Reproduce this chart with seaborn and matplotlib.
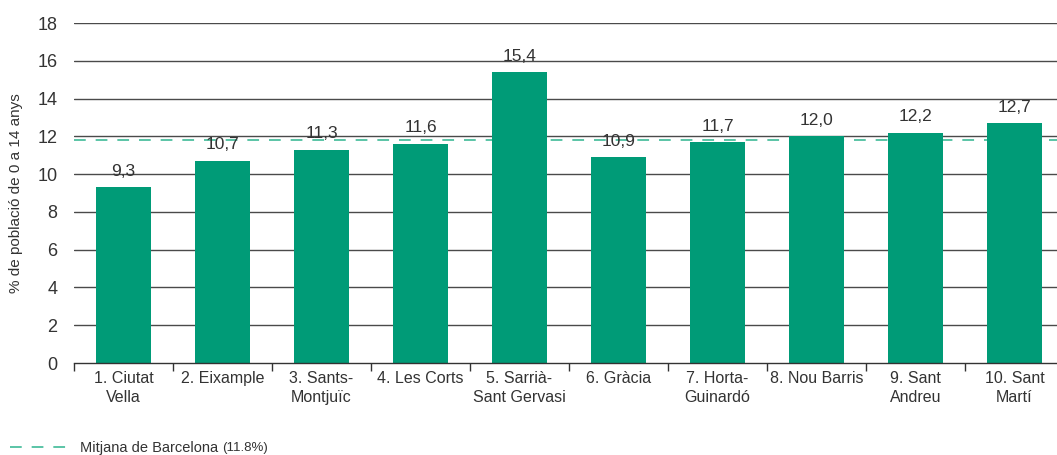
import matplotlib
matplotlib.use("Agg")
import matplotlib.pyplot as plt
import seaborn as sns
import pandas as pd
from matplotlib.lines import Line2D
from matplotlib.ticker import FixedLocator

districts = ["1. Ciutat\nVella", "2. Eixample", "3. Sants-\nMontjuïc", "4. Les Corts",
             "5. Sarrià-\nSant Gervasi", "6. Gràcia", "7. Horta-\nGuinardó",
             "8. Nou Barris", "9. Sant\nAndreu", "10. Sant\nMartí"]
values = [9.3, 10.7, 11.3, 11.6, 15.4, 10.9, 11.7, 12.0, 12.2, 12.7]
bcn_mean = 11.8
yticks = [0, 2, 4, 6, 8, 10, 12, 14, 16, 18]

sns.set_theme(style="white")
plt.rcParams['font.family'] = ['Liberation Sans', 'DejaVu Sans']

bar_color = "#009b77"
mean_color = "#4dbf9f"
text_color = "#333333"

df = pd.DataFrame({"district": districts, "value": values})

fig = plt.figure(figsize=(10.57, 4.55), dpi=100)
ax = fig.add_axes([74/1057, 1-363/455, 1-74/1057, (363-23)/455])

for y in yticks[1:]:
    ax.axhline(y, color="#4a4a4a", lw=1.0, zorder=0)

sns.barplot(data=df, x="district", y="value", color=bar_color, width=0.56,
            saturation=1, linewidth=0, ax=ax, zorder=2)
ax.axhline(bcn_mean, color=mean_color, lw=1.3, dashes=(6.5, 5.5), zorder=1)

for i, v in enumerate(values):
    ax.text(i, v + 0.45, f"{v:.1f}".replace(".", ","), ha="center", va="bottom",
            fontsize=12.5, color=text_color)

ax.set_xlim(-0.5, 9.43)
ax.set_ylim(0, 18)
ax.set_yticks(yticks)
ax.set_yticklabels([str(t) for t in yticks], fontsize=13, color=text_color)
ax.tick_params(axis="y", length=0, pad=12)
ax.set_xticks(range(len(districts)))
ax.set_xticklabels(districts, fontsize=11.5, color=text_color, linespacing=1.3)
ax.tick_params(axis="x", which="major", length=0, pad=6)
ax.xaxis.set_minor_locator(FixedLocator([i - 0.5 for i in range(10)]))
ax.tick_params(axis="x", which="minor", length=6, width=1, color=text_color, direction="out", bottom=True)
ax.set_xlabel("")
ax.set_ylabel("% de població de 0 a 14 anys", fontsize=11, color=text_color, labelpad=10)

for s in ["left", "right", "top"]:
    ax.spines[s].set_visible(False)
ax.spines["bottom"].set_color(text_color)
ax.spines["bottom"].set_linewidth(1.0)

fig.add_artist(Line2D([10/1057, 66/1057], [1-447/455, 1-447/455], color=mean_color,
                      lw=1.3, dashes=(6.5, 5.5)))
t1 = fig.text(80/1057, 1-448/455, "Mitjana de Barcelona ", fontsize=10.5, color=text_color, va="center")
fig.canvas.draw()
bb = t1.get_window_extent(renderer=fig.canvas.get_renderer())
fig.text(bb.x1 / fig.bbox.width, 1-448/455, "(11.8%)", fontsize=9.5, color=text_color, va="center")

fig.savefig("out.png", dpi=100)
